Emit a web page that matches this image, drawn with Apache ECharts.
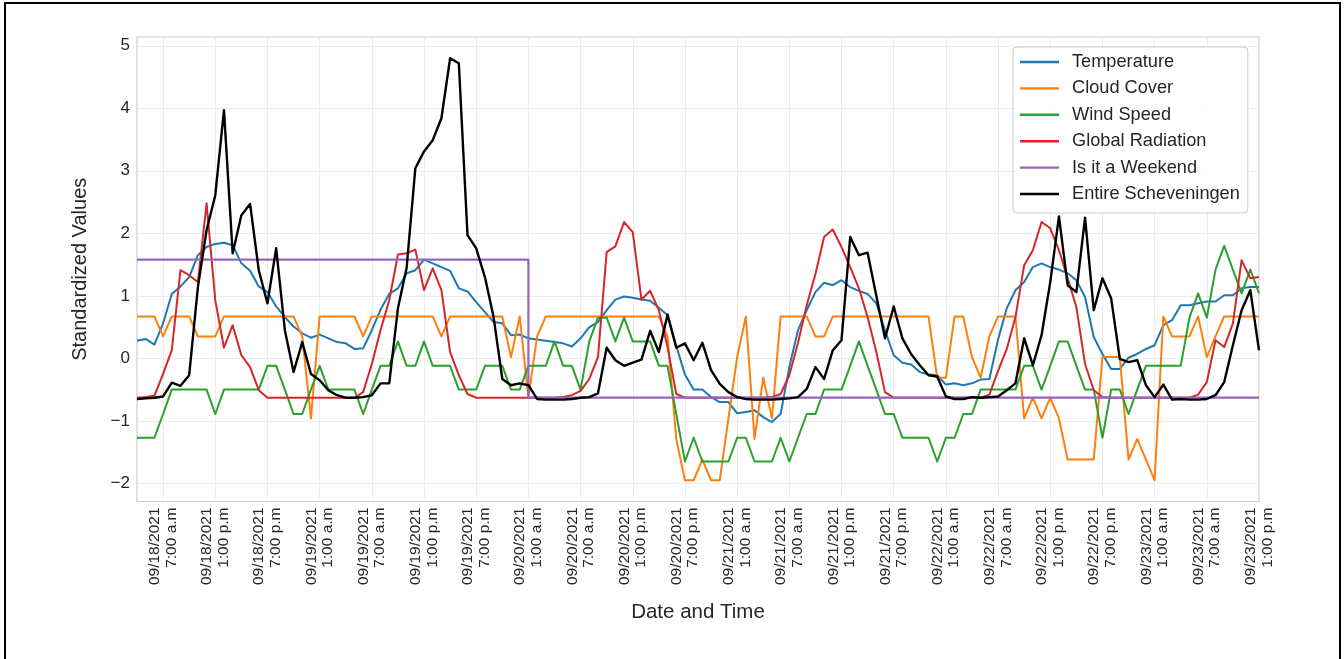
<!DOCTYPE html>
<html>
<head>
<meta charset="utf-8">
<script src="https://cdn.jsdelivr.net/npm/echarts@6/dist/echarts.min.js"></script>
<style>
  html, body { margin: 0; padding: 0; background: #fff; overflow: hidden; }
  #chart { position: absolute; left: 0; top: 0; width: 1344px; height: 659px; }
  #frame { position: absolute; left: 4px; top: 2px; width: 1337px; height: 720px;
           border: 2px solid #000; box-sizing: border-box; pointer-events: none; }
</style>
</head>
<body>
<div id="chart"></div>
<div id="frame"></div>
<script>
// Hourly observations, Scheveningen, 18-23 Sep 2021 (standardized)
const firstHourUTC = Date.UTC(2021, 8, 18, 4);   // 09/18/2021 4:00 a.m
const hourCount = 130;

const yTicks = [-2, -1, 0, 1, 2, 3, 4, 5];

const temperature = [
  0.28, 0.31, 0.22, 0.56, 1.03, 1.15, 1.30, 1.65, 1.78, 1.83,
  1.85, 1.81, 1.52, 1.40, 1.15, 1.06, 0.83, 0.66, 0.51, 0.40,
  0.33, 0.38, 0.32, 0.26, 0.24, 0.15, 0.16, 0.45, 0.78, 1.03,
  1.12, 1.36, 1.41, 1.58, 1.52, 1.46, 1.40, 1.12, 1.07, 0.90,
  0.74, 0.58, 0.56, 0.37, 0.38, 0.32, 0.30, 0.28, 0.26, 0.24,
  0.19, 0.32, 0.50, 0.58, 0.77, 0.94, 0.99, 0.97, 0.94, 0.92,
  0.81, 0.69, 0.20, -0.26, -0.50, -0.50, -0.62, -0.70, -0.70, -0.88,
  -0.86, -0.83, -0.94, -1.02, -0.89, -0.14, 0.45, 0.77, 1.06, 1.21,
  1.17, 1.25, 1.14, 1.08, 1.03, 0.88, 0.45, 0.05, -0.07, -0.10,
  -0.22, -0.26, -0.27, -0.42, -0.40, -0.43, -0.40, -0.34, -0.33, 0.30,
  0.80, 1.09, 1.22, 1.46, 1.52, 1.46, 1.42, 1.36, 1.25, 0.98,
  0.34, 0.07, -0.17, -0.17, 0.01, 0.07, 0.15, 0.21, 0.53, 0.61,
  0.85, 0.85, 0.88, 0.91, 0.91, 1.01, 1.01, 1.12, 1.14, 1.14
];

const cloudCover = [
  0.67, 0.67, 0.67, 0.35, 0.67, 0.67, 0.67, 0.35, 0.35, 0.35,
  0.67, 0.67, 0.67, 0.67, 0.67, 0.67, 0.67, 0.67, 0.67, 0.35,
  -0.96, 0.67, 0.67, 0.67, 0.67, 0.67, 0.35, 0.67, 0.67, 0.67,
  0.67, 0.67, 0.67, 0.67, 0.67, 0.35, 0.67, 0.67, 0.67, 0.67,
  0.67, 0.67, 0.67, 0.02, 0.67, -0.63, 0.35, 0.67, 0.67, 0.67,
  0.67, 0.67, 0.67, 0.67, 0.67, 0.67, 0.67, 0.67, 0.67, 0.67,
  0.67, 0.35, -1.29, -1.95, -1.95, -1.62, -1.95, -1.95, -0.96, 0.02,
  0.67, -1.29, -0.31, -0.96, 0.67, 0.67, 0.67, 0.67, 0.35, 0.35,
  0.67, 0.67, 0.67, 0.67, 0.67, 0.67, 0.67, 0.67, 0.67, 0.67,
  0.67, 0.67, -0.31, -0.31, 0.67, 0.67, 0.02, -0.31, 0.35, 0.67,
  0.67, 0.67, -0.96, -0.63, -0.96, -0.63, -0.96, -1.62, -1.62, -1.62,
  -1.62, 0.02, 0.02, 0.02, -1.62, -1.29, -1.62, -1.95, 0.67, 0.35,
  0.35, 0.35, 0.67, 0.02, 0.35, 0.67, 0.67, 0.67, 0.67, 0.67
];

const windSpeed = [
  -1.27, -1.27, -1.27, -0.89, -0.50, -0.50, -0.50, -0.50, -0.50, -0.89,
  -0.50, -0.50, -0.50, -0.50, -0.50, -0.12, -0.12, -0.50, -0.89, -0.89,
  -0.50, -0.12, -0.50, -0.50, -0.50, -0.50, -0.89, -0.50, -0.12, -0.12,
  0.27, -0.12, -0.12, 0.27, -0.12, -0.12, -0.12, -0.50, -0.50, -0.50,
  -0.12, -0.12, -0.12, -0.50, -0.50, -0.12, -0.12, -0.12, 0.27, -0.12,
  -0.12, -0.50, 0.27, 0.65, 0.65, 0.27, 0.65, 0.27, 0.27, 0.27,
  -0.12, -0.12, -0.89, -1.65, -1.27, -1.65, -1.65, -1.65, -1.65, -1.27,
  -1.27, -1.65, -1.65, -1.65, -1.27, -1.65, -1.27, -0.89, -0.89, -0.50,
  -0.50, -0.50, -0.12, 0.27, -0.12, -0.50, -0.89, -0.89, -1.27, -1.27,
  -1.27, -1.27, -1.65, -1.27, -1.27, -0.89, -0.89, -0.50, -0.50, -0.50,
  -0.50, -0.50, -0.12, -0.12, -0.50, -0.12, 0.27, 0.27, -0.12, -0.50,
  -0.50, -1.27, -0.50, -0.50, -0.89, -0.50, -0.12, -0.12, -0.12, -0.12,
  -0.12, 0.65, 1.04, 0.65, 1.42, 1.80, 1.42, 1.04, 1.42, 1.04
];

const globalRadiation = [
  -0.63, -0.62, -0.60, -0.25, 0.13, 1.41, 1.33, 1.22, 2.48, 0.93,
  0.17, 0.53, 0.05, -0.14, -0.51, -0.63, -0.63, -0.63, -0.63, -0.63,
  -0.63, -0.63, -0.63, -0.63, -0.63, -0.63, -0.54, -0.09, 0.45, 0.93,
  1.66, 1.68, 1.74, 1.09, 1.44, 1.09, 0.10, -0.27, -0.57, -0.63,
  -0.63, -0.63, -0.63, -0.63, -0.63, -0.63, -0.63, -0.63, -0.63, -0.62,
  -0.59, -0.52, -0.33, 0.02, 1.70, 1.79, 2.18, 2.02, 0.94, 1.08,
  0.77, 0.18, -0.57, -0.63, -0.63, -0.63, -0.63, -0.63, -0.63, -0.63,
  -0.63, -0.63, -0.63, -0.62, -0.57, -0.27, 0.25, 0.85, 1.35, 1.94,
  2.06, 1.78, 1.46, 1.12, 0.66, 0.10, -0.54, -0.63, -0.63, -0.63,
  -0.63, -0.63, -0.63, -0.63, -0.63, -0.63, -0.63, -0.63, -0.58, -0.20,
  0.15, 0.66, 1.49, 1.73, 2.18, 2.08, 1.73, 1.28, 0.82, -0.09,
  -0.51, -0.62, -0.63, -0.63, -0.63, -0.63, -0.63, -0.63, -0.63, -0.63,
  -0.63, -0.63, -0.58, -0.38, 0.29, 0.18, 0.56, 1.57, 1.28, 1.30
];

const isWeekend = [
  1.58, 1.58, 1.58, 1.58, 1.58, 1.58, 1.58, 1.58, 1.58, 1.58,
  1.58, 1.58, 1.58, 1.58, 1.58, 1.58, 1.58, 1.58, 1.58, 1.58,
  1.58, 1.58, 1.58, 1.58, 1.58, 1.58, 1.58, 1.58, 1.58, 1.58,
  1.58, 1.58, 1.58, 1.58, 1.58, 1.58, 1.58, 1.58, 1.58, 1.58,
  1.58, 1.58, 1.58, 1.58, 1.58, -0.63, -0.63, -0.63, -0.63, -0.63,
  -0.63, -0.63, -0.63, -0.63, -0.63, -0.63, -0.63, -0.63, -0.63, -0.63,
  -0.63, -0.63, -0.63, -0.63, -0.63, -0.63, -0.63, -0.63, -0.63, -0.63,
  -0.63, -0.63, -0.63, -0.63, -0.63, -0.63, -0.63, -0.63, -0.63, -0.63,
  -0.63, -0.63, -0.63, -0.63, -0.63, -0.63, -0.63, -0.63, -0.63, -0.63,
  -0.63, -0.63, -0.63, -0.63, -0.63, -0.63, -0.63, -0.63, -0.63, -0.63,
  -0.63, -0.63, -0.63, -0.63, -0.63, -0.63, -0.63, -0.63, -0.63, -0.63,
  -0.63, -0.63, -0.63, -0.63, -0.63, -0.63, -0.63, -0.63, -0.63, -0.63,
  -0.63, -0.63, -0.63, -0.63, -0.63, -0.63, -0.63, -0.63, -0.63, -0.63
];

const entireScheveningen = [
  -0.65, -0.64, -0.63, -0.61, -0.39, -0.44, -0.27, 1.14, 2.05, 2.61,
  3.97, 1.68, 2.29, 2.47, 1.41, 0.88, 1.76, 0.45, -0.22, 0.26,
  -0.25, -0.35, -0.51, -0.59, -0.63, -0.63, -0.62, -0.59, -0.40, -0.40,
  0.80, 1.45, 3.04, 3.31, 3.49, 3.84, 4.80, 4.72, 1.97, 1.76,
  1.30, 0.66, -0.33, -0.43, -0.40, -0.43, -0.65, -0.66, -0.66, -0.66,
  -0.65, -0.63, -0.62, -0.56, 0.17, -0.03, -0.12, -0.07, -0.02, 0.44,
  0.10, 0.70, 0.17, 0.24, -0.03, 0.25, -0.19, -0.41, -0.54, -0.62,
  -0.65, -0.66, -0.66, -0.66, -0.65, -0.64, -0.62, -0.49, -0.14, -0.33,
  0.13, 0.29, 1.94, 1.65, 1.69, 1.00, 0.32, 0.83, 0.32, 0.07,
  -0.11, -0.27, -0.29, -0.61, -0.65, -0.65, -0.62, -0.63, -0.62, -0.61,
  -0.51, -0.40, 0.32, -0.11, 0.37, 1.22, 2.27, 1.17, 1.06, 2.25,
  0.77, 1.28, 0.96, -0.01, -0.06, -0.03, -0.43, -0.62, -0.42, -0.66,
  -0.65, -0.66, -0.66, -0.65, -0.59, -0.38, 0.21, 0.77, 1.09, 0.13
];

// Category labels: "MM/DD/YYYY\nH:00 a.m|p.m", one per hour
function hourLabel(ms) {
  const d = new Date(ms);
  const mm = String(d.getUTCMonth() + 1).padStart(2, '0');
  const dd = String(d.getUTCDate()).padStart(2, '0');
  const h = d.getUTCHours();
  const h12 = h % 12 === 0 ? 12 : h % 12;
  return mm + '/' + dd + '/' + d.getUTCFullYear() + '\n' + h12 + ':00 ' + (h < 12 ? 'a.m' : 'p.m');
}
const hours = [];
for (let k = 0; k < hourCount; k++) hours.push(hourLabel(firstHourUTC + k * 3600000));

// every sixth hour gets a label and a grid line
const everySixth = (i) => i % 6 === 3;

const FONT = "'Liberation Sans', Arial, Helvetica, sans-serif";
const TEXT = '#262626';

function lineSeries(name, data, color, width, extra) {
  return Object.assign({
    name, type: 'line', data,
    symbol: 'none', showSymbol: false,
    lineStyle: { color, width, join: 'round' },
    itemStyle: { color },
    emphasis: { disabled: true },
    z: 2
  }, extra || {});
}

const chart = echarts.init(document.getElementById('chart'), null, { renderer: 'canvas' });
chart.setOption({
  animation: false,
  backgroundColor: '#ffffff',
  textStyle: { fontFamily: FONT },
  grid: {
    left: 137, right: 85, top: 37, bottom: 157.5,
    show: true, borderColor: '#cccccc', borderWidth: 1.2, backgroundColor: 'transparent'
  },
  xAxis: {
    type: 'category',
    data: hours,
    boundaryGap: false,
    axisLine: { show: false },
    axisTick: { show: false },
    axisLabel: {
      interval: everySixth,
      rotate: 90,
      fontSize: 15.5,
      lineHeight: 16.5,
      color: TEXT,
      fontFamily: FONT,
      margin: 6
    },
    splitLine: { show: true, interval: everySixth, lineStyle: { color: '#ebebeb', width: 1 } },
    name: 'Date and Time',
    nameLocation: 'middle',
    nameGap: 100,
    nameTextStyle: { fontSize: 20.5, color: TEXT, fontFamily: FONT }
  },
  yAxis: {
    type: 'value',
    min: -2.29,
    max: 5.14,
    axisLine: { show: false },
    axisTick: { show: false, customValues: yTicks },
    axisLabel: {
      customValues: yTicks,
      fontSize: 17,
      color: TEXT,
      fontFamily: FONT,
      margin: 7,
      formatter: (v) => String(Math.round(v)).replace('-', '\u2212')
    },
    splitLine: { show: true, lineStyle: { color: '#ebebeb', width: 1 } },
    name: 'Standardized Values',
    nameLocation: 'middle',
    nameGap: 47,
    nameTextStyle: { fontSize: 20, color: TEXT, fontFamily: FONT }
  },
  legend: {
    orient: 'vertical',
    left: 1013,
    top: 47,
    padding: [5, 8, 9, 7],
    icon: 'rect',
    itemWidth: 39,
    itemHeight: 2.4,
    itemGap: 6.4,
    backgroundColor: 'rgba(255,255,255,0.85)',
    borderColor: '#cccccc',
    borderWidth: 1,
    borderRadius: 4,
    textStyle: { fontSize: 18.2, lineHeight: 20, color: TEXT, fontFamily: FONT, padding: [0, 0, 0, 8] },
    data: ['Temperature', 'Cloud Cover', 'Wind Speed', 'Global Radiation', 'Is it a Weekend', 'Entire Scheveningen']
  },
  series: [
    lineSeries('Temperature', temperature, '#1f77b4', 2),
    lineSeries('Cloud Cover', cloudCover, '#ff7f0e', 2),
    lineSeries('Wind Speed', windSpeed, '#2ca02c', 2),
    lineSeries('Global Radiation', globalRadiation, '#d62728', 2),
    lineSeries('Is it a Weekend', isWeekend, '#9467bd', 2.2, { step: 'end' }),
    lineSeries('Entire Scheveningen', entireScheveningen, '#000000', 2.4)
  ]
});
</script>
</body>
</html>
